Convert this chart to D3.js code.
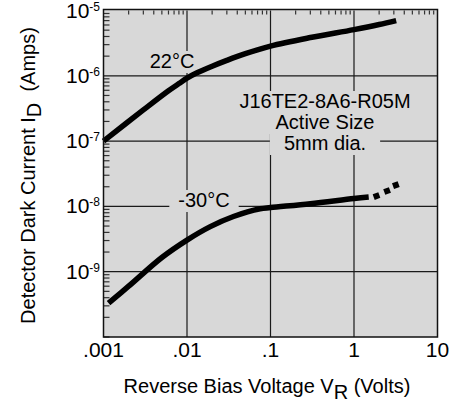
<!DOCTYPE html>
<html>
<head>
<meta charset="utf-8">
<script src="https://cdn.jsdelivr.net/npm/d3@7/dist/d3.min.js"></script>
<style>
  body { margin: 0; background: #fff; }
  text { font-family: "Liberation Sans", Arial, Helvetica, sans-serif; fill: #000; }
</style>
</head>
<body>
<svg id="chart"></svg>
<script>
// Chart size
const width = 449, height = 402;

// Data (volts, amps)
const voltage22 = [0.001, 0.003, 0.006, 0.008, 0.01, 0.013, 0.02, 0.03, 0.05, 0.1, 0.3, 1, 2, 3.2];
const current22 = [1.0e-7, 3.0e-7, 5.9e-7, 7.6e-7, 0.92e-6, 1.1e-6, 1.4e-6, 1.72e-6, 2.18e-6, 2.85e-6, 3.85e-6, 5.1e-6, 6.1e-6, 7.0e-6];

const voltageM30 = [0.00115, 0.002, 0.005, 0.01, 0.019, 0.036, 0.075, 0.1, 0.3, 1, 1.5];
const currentM30 = [3.3e-10, 6.0e-10, 1.65e-9, 3.05e-9, 4.9e-9, 7.0e-9, 9.2e-9, 9.6e-9, 1.1e-8, 1.32e-8, 1.39e-8];

// dotted tail of the -30C curve
const voltageM30Dots = [1.86, 2.49, 3.17];
const currentM30Dots = [1.44e-8, 1.72e-8, 2.12e-8];

// Axis ticks
const xTicks = [0.001, 0.01, 0.1, 1, 10];
const xTickLabels = [".001", ".01", ".1", "1", "10"];
const yTicks = [1e-9, 1e-8, 1e-7, 1e-6, 1e-5];
const yTickExp = ["-9", "-8", "-7", "-6", "-5"];

const bg = "#d8d8d8";

const svg = d3.select("#chart")
    .attr("width", width)
    .attr("height", height);

// Scales
const x = d3.scaleLog().domain([1e-3, 10]).range([103.5, 437.5]);
const y = d3.scaleLog().domain([1e-10, 1e-5]).range([337, 10.5]);

// Plot background (halftone grey in the original)
svg.append("rect")
    .attr("x", x(1e-3)).attr("y", y(1e-5) - 1)
    .attr("width", x(10) - x(1e-3)).attr("height", y(1e-10) - y(1e-5) + 1)
    .attr("fill", bg);

// Grid lines at each decade
svg.append("g").selectAll("line")
    .data(xTicks.slice(1, -1))
    .enter().append("line")
    .attr("x1", d => x(d)).attr("x2", d => x(d))
    .attr("y1", y(1e-5)).attr("y2", y(1e-10))
    .attr("stroke", "#1a1a1a").attr("stroke-width", 1.2);

svg.append("g").selectAll("line")
    .data(yTicks.slice(0, -1))
    .enter().append("line")
    .attr("x1", x(1e-3)).attr("x2", x(10))
    .attr("y1", d => y(d)).attr("y2", d => y(d))
    .attr("stroke", "#1a1a1a").attr("stroke-width", 1.2);

// Minor log ticks on the left edge, and short ones on top
const yMinor = y.ticks().filter(d => !yTicks.includes(d));
svg.append("g").selectAll("line")
    .data(yMinor)
    .enter().append("line")
    .attr("x1", x(1e-3)).attr("x2", x(1e-3) + 6)
    .attr("y1", d => y(d)).attr("y2", d => y(d))
    .attr("stroke", "#333").attr("stroke-width", 1.2);

const xMinor = x.ticks().filter(d => !xTicks.includes(d));
svg.append("g").selectAll("line")
    .data(xMinor)
    .enter().append("line")
    .attr("x1", d => x(d)).attr("x2", d => x(d))
    .attr("y1", y(1e-5)).attr("y2", y(1e-5) + 4)
    .attr("stroke", "#333").attr("stroke-width", 1.2);

// Labels on the plot, each line with a box that cuts the grid
function boxedLabel(lines, cx, cy, lineH, padX) {
    const g = svg.append("g");
    lines.forEach((s, i) => {
        const rect = g.append("rect").attr("fill", bg);
        const t = g.append("text")
            .attr("x", cx).attr("y", cy + i * lineH)
            .attr("text-anchor", "middle")
            .attr("font-size", 20)
            .text(s);
        const bb = t.node().getBBox();
        rect.attr("x", bb.x - padX).attr("y", cy + i * lineH - 17)
            .attr("width", bb.width + 2 * padX).attr("height", 22);
    });
}

boxedLabel(["22°C"], 172, 68, 0, 3);
boxedLabel(["-30°C"], 204, 207, 0, 9);
boxedLabel(["J16TE2-8A6-R05M", "Active Size", "5mm dia."], 325, 108, 21, 14);

// Curves
const line = d3.line()
    .x(d => x(d[0]))
    .y(d => y(d[1]))
    .curve(d3.curveCatmullRom);

svg.append("path")
    .datum(d3.zip(voltage22, current22))
    .attr("d", line)
    .attr("fill", "none").attr("stroke", "#000")
    .attr("stroke-width", 5.5);

svg.append("path")
    .datum(d3.zip(voltageM30, currentM30))
    .attr("d", line)
    .attr("fill", "none").attr("stroke", "#000")
    .attr("stroke-width", 5.5);

svg.append("g").selectAll("rect")
    .data(d3.zip(voltageM30Dots, currentM30Dots))
    .enter().append("rect")
    .attr("x", d => x(d[0]) - 3).attr("y", d => y(d[1]) - 3)
    .attr("width", 6).attr("height", 6)
    .attr("transform", d => `rotate(-20,${x(d[0])},${y(d[1])})`)
    .attr("fill", "#000");

// Frame
svg.append("rect")
    .attr("x", x(1e-3)).attr("y", y(1e-5) - 1)
    .attr("width", x(10) - x(1e-3)).attr("height", y(1e-10) - y(1e-5) + 1)
    .attr("fill", "none").attr("stroke", "#111").attr("stroke-width", 1.5);

// X tick labels
svg.append("g").selectAll("text")
    .data(xTicks)
    .enter().append("text")
    .attr("x", d => x(d))
    .attr("y", 357)
    .attr("text-anchor", "middle")
    .attr("font-size", 21)
    .text((d, i) => xTickLabels[i]);

// Y tick labels (10 with superscript)
const yLab = svg.append("g").selectAll("text")
    .data(yTicks)
    .enter().append("text")
    .attr("x", 100)
    .attr("y", d => y(d) + 7)
    .attr("text-anchor", "end")
    .attr("font-size", 21);
yLab.append("tspan").text("10");
yLab.append("tspan")
    .attr("font-size", 12)
    .attr("dy", -7)
    .text((d, i) => yTickExp[i]);

// Axis titles
const xt = svg.append("text")
    .attr("x", 267).attr("y", 393)
    .attr("text-anchor", "middle")
    .attr("font-size", 20);
xt.append("tspan").text("Reverse Bias Voltage V");
xt.append("tspan").attr("dy", 6).text("R");
xt.append("tspan").attr("dy", -6).text(" (Volts)");

const yt = svg.append("text")
    .attr("transform", "translate(35,175.5) rotate(-90)")
    .attr("text-anchor", "middle")
    .attr("font-size", 20);
yt.append("tspan").text("Detector Dark Current I");
yt.append("tspan").attr("dy", 6).text("D");
yt.append("tspan").attr("dy", -6).text("\u00a0\u00a0(Amps)");
</script>
</body>
</html>
